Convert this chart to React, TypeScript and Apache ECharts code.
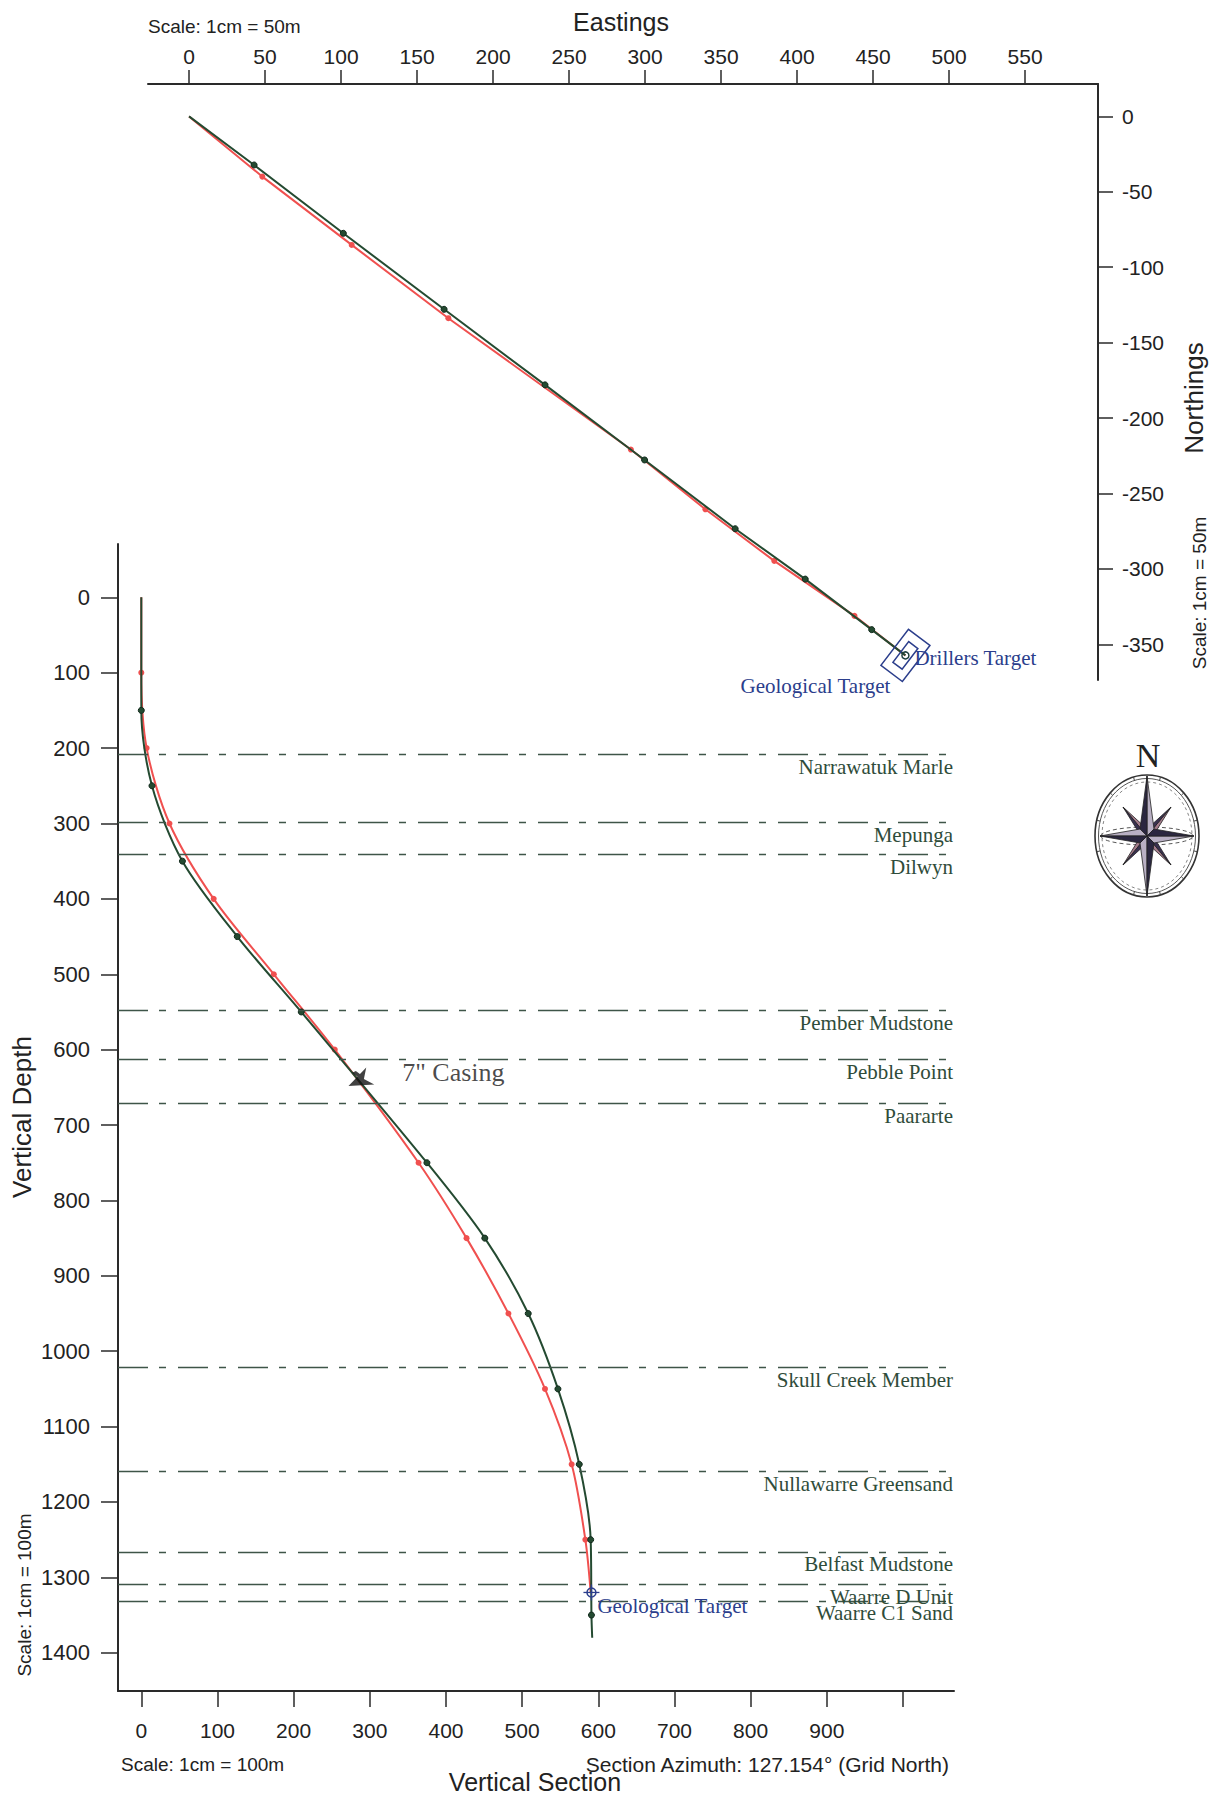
import React, { useEffect, useRef } from "react";
import * as echarts from "echarts";

// ---------- tick values ----------
const planEastTicks = [0, 50, 100, 150, 200, 250, 300, 350, 400, 450, 500, 550];
const planNorthTicks = [0, -50, -100, -150, -200, -250, -300, -350];
const sectionVsTicks = [0, 100, 200, 300, 400, 500, 600, 700, 800, 900, 1000];
const sectionVsLabels = [0, 100, 200, 300, 400, 500, 600, 700, 800, 900];
const sectionDepthTicks = [0, 100, 200, 300, 400, 500, 600, 700, 800, 900, 1000, 1100, 1200, 1300, 1400];

// ---------- plan view (Eastings, Northings) ----------
const planActual = [
  [0, 0], [42.8, -32.2], [101.5, -77.5], [167.8, -127.9], [234.2, -178],
  [299.7, -227.8], [359.3, -273.4], [405.4, -306.8], [449.1, -340.3], [471.3, -357.4],
];
const planPlanned = [
  [0, 0], [48.2, -39.9], [107, -85.2], [170.6, -133.8], [290.7, -220.9],
  [339.7, -260.5], [385, -294.7], [437.8, -331.2], [471.3, -357.4],
];
const planTarget = [471.3, -357.4];
const sectionAzimuth = 127.154;

// ---------- vertical section (VS, TVD) ----------
const sectionActual = [
  [0, 0], [0, 150], [14, 250], [54, 350], [126, 450], [210, 550], [375, 750],
  [451, 850], [508, 950], [547, 1050], [575, 1150], [590, 1250], [591, 1350], [592, 1380],
];
const sectionPlanned = [
  [0, 0], [0, 100], [7, 200], [37, 300], [95, 400], [174, 500], [254, 600], [364, 750],
  [427, 850], [482, 950], [530, 1050], [565, 1150], [583, 1250], [590, 1320],
];
const casingPoint = [286, 641];
const casingLabel = '7" Casing';
const sectionTarget = [591, 1320];

const formationNames = [
  "Narrawatuk Marle", "Mepunga", "Dilwyn", "Pember Mudstone", "Pebble Point", "Paararte",
  "Skull Creek Member", "Nullawarre Greensand", "Belfast Mudstone", "Waarre D Unit", "Waarre C1 Sand",
];
const formationDepths = [208, 299, 341, 548, 613, 671, 1021, 1159, 1266, 1309, 1331];

const SANS = "'Liberation Sans', Arial, Helvetica, sans-serif";
const SERIF = "'Liberation Serif', 'Times New Roman', serif";
const AXIS = "#2a2a2a";
const GREEN = "#244a31";
const RED = "#f0504f";
const BLUE = "#2b3e8c";
const FORM = "#2f4c3a";

function withEndsHidden(arr: number[][]) {
  return arr.map((p, i) => (i === 0 || i === arr.length - 1 ? { value: p, symbol: "none" } : p));
}

function compassGraphics() {
  const cx = 1147, cy = 836;
  const els: any[] = [];
  els.push({ type: "ellipse", shape: { cx, cy, rx: 52, ry: 61 }, style: { fill: "#fff", stroke: "#333", lineWidth: 1.6 } });
  els.push({ type: "ellipse", shape: { cx, cy, rx: 48.5, ry: 57.5 }, style: { fill: "transparent", stroke: "#555", lineWidth: 1 } });
  els.push({ type: "ellipse", shape: { cx, cy, rx: 45, ry: 54 }, style: { fill: "transparent", stroke: "#666", lineWidth: 0.8, lineDash: [3, 3] } });
  els.push({ type: "ellipse", shape: { cx, cy, rx: 46, ry: 9 }, style: { fill: "transparent", stroke: "#444", lineWidth: 0.9, lineDash: [4, 3] } });
  for (let k = 0; k < 12; k++) {
    const a = (k * 30 + 15) * Math.PI / 180;
    const s = Math.sin(a), c = Math.cos(a);
    els.push({ type: "line", shape: { x1: cx + 48.5 * s, y1: cy - 57.5 * c, x2: cx + 52 * s, y2: cy - 61 * c }, style: { stroke: "#444", lineWidth: 1 } });
  }
  const kite = (tx: number, ty: number, w: number, back: number, dark: string, light: string) => {
    const L = Math.hypot(tx, ty);
    const dx = tx / L, dy = ty / L;
    const px = -dy, py = dx;
    const s1 = [cx + dx * back + px * w, cy + dy * back + py * w];
    const s2 = [cx + dx * back - px * w, cy + dy * back - py * w];
    const tip = [cx + tx, cy + ty];
    els.push({ type: "polygon", shape: { points: [[cx, cy], tip, s1] }, style: { fill: light, stroke: "#222", lineWidth: 0.8 } });
    els.push({ type: "polygon", shape: { points: [[cx, cy], tip, s2] }, style: { fill: dark, stroke: "#222", lineWidth: 0.8 } });
  };
  kite(24, -29, 4.5, 5, "#3a3150", "#a57c8c");
  kite(24, 29, 4.5, 5, "#3a3150", "#a57c8c");
  kite(-24, 29, 4.5, 5, "#3a3150", "#a57c8c");
  kite(-24, -29, 4.5, 5, "#3a3150", "#a57c8c");
  kite(0, -60, 7, 7, "#2b2740", "#b9b0c4");
  kite(47, 0, 7, 7, "#2b2740", "#b9b0c4");
  kite(0, 60, 7, 7, "#2b2740", "#b9b0c4");
  kite(-47, 0, 7, 7, "#2b2740", "#b9b0c4");
  els.push({ type: "text", x: 1148, y: 755, style: { text: "N", fontFamily: SERIF, fontSize: 34, fill: "#222", align: "center", verticalAlign: "middle" } });
  return els;
}

const plain = (v: number) => String(v);

export default function App() {
  const ref = useRef<HTMLDivElement>(null);
  useEffect(() => {
    document.body.style.margin = "0";
    const chart = echarts.init(ref.current!, null, { renderer: "svg" });
    const tickStyle = { color: AXIS, width: 1.5 };
    const lineStyle = { color: AXIS, width: 2 };
    const labelBase = { fontFamily: SANS, fontSize: 21, color: "#222", formatter: plain };
    const option: any = {
      animation: false,
      backgroundColor: "#ffffff",
      grid: [
        { left: 148, top: 84, width: 950, height: 596 },
        { left: 118, top: 544, width: 836, height: 1147 },
      ],
      xAxis: [
        {
          gridIndex: 0, type: "value", position: "top", min: -27, max: 598,
          axisLine: { show: true, onZero: false, lineStyle },
          axisTick: { show: true, customValues: planEastTicks, length: 14, lineStyle: tickStyle },
          axisLabel: { ...labelBase, customValues: planEastTicks, margin: 17 },
          splitLine: { show: false },
        },
        {
          gridIndex: 1, type: "value", position: "bottom", min: -30.6, max: 1067,
          axisLine: { show: true, onZero: false, lineStyle },
          axisTick: { show: true, customValues: sectionVsTicks, length: 16, lineStyle: tickStyle },
          axisLabel: { ...labelBase, customValues: sectionVsLabels, margin: 29 },
          splitLine: { show: false },
        },
      ],
      yAxis: [
        {
          gridIndex: 0, type: "value", position: "right", min: -373.7, max: 21.5,
          axisLine: { show: true, onZero: false, lineStyle },
          axisTick: { show: true, customValues: planNorthTicks, length: 15, lineStyle: tickStyle },
          axisLabel: { ...labelBase, customValues: planNorthTicks, margin: 24, align: "left" },
          splitLine: { show: false },
        },
        {
          gridIndex: 1, type: "value", position: "left", inverse: true, min: -70.7, max: 1450.7,
          axisLine: { show: true, onZero: false, lineStyle },
          axisTick: { show: true, customValues: sectionDepthTicks, length: 17, lineStyle: tickStyle },
          axisLabel: { ...labelBase, fontSize: 22, customValues: sectionDepthTicks, margin: 28, align: "right" },
          splitLine: { show: false },
        },
      ],
      series: [
        {
          name: "Plan planned", type: "line", xAxisIndex: 0, yAxisIndex: 0,
          data: withEndsHidden(planPlanned), smooth: false,
          lineStyle: { color: RED, width: 2 }, symbol: "circle", symbolSize: 6,
          itemStyle: { color: RED }, z: 3,
        },
        {
          name: "Plan actual", type: "line", xAxisIndex: 0, yAxisIndex: 0,
          data: withEndsHidden(planActual), smooth: false,
          lineStyle: { color: GREEN, width: 2 }, symbol: "circle", symbolSize: 6,
          itemStyle: { color: GREEN, borderColor: "#10281a", borderWidth: 1 }, z: 4,
        },
        {
          name: "Plan target", type: "custom", coordinateSystem: "cartesian2d", xAxisIndex: 0, yAxisIndex: 0,
          data: [planTarget], z: 5, clip: false,
          renderItem: (params: any, api: any) => {
            const E = api.value(0), N = api.value(1);
            const az = (sectionAzimuth * Math.PI) / 180;
            const dE = Math.sin(az), dN = Math.cos(az);
            const pE = -dN, pN = dE;
            const rect = (ha: number, hc: number) =>
              [[ha, hc], [ha, -hc], [-ha, -hc], [-ha, hc]].map(([a, c]) => api.coord([E + a * dE + c * pE, N + a * dN + c * pN]));
            const c = api.coord([E, N]);
            return {
              type: "group",
              children: [
                { type: "polygon", shape: { points: rect(8.85, 15) }, style: { fill: "transparent", stroke: BLUE, lineWidth: 1.5 } },
                { type: "polygon", shape: { points: rect(3.8, 8.6) }, style: { fill: "transparent", stroke: BLUE, lineWidth: 1.5 } },
                { type: "circle", shape: { cx: c[0], cy: c[1], r: 3.5 }, style: { fill: "transparent", stroke: "#1f4040", lineWidth: 1.5 } },
                { type: "text", x: c[0] + 9, y: c[1] + 3, style: { text: "Drillers Target", fontFamily: SERIF, fontSize: 21, fill: BLUE, align: "left", verticalAlign: "middle" } },
                { type: "text", x: c[0] - 15, y: c[1] + 31, style: { text: "Geological Target", fontFamily: SERIF, fontSize: 21, fill: BLUE, align: "right", verticalAlign: "middle" } },
              ],
            };
          },
        },
        {
          name: "Section planned", type: "line", xAxisIndex: 1, yAxisIndex: 1,
          data: withEndsHidden(sectionPlanned), smooth: 0.3,
          lineStyle: { color: RED, width: 2 }, symbol: "circle", symbolSize: 6,
          itemStyle: { color: RED }, z: 3,
        },
        {
          name: "Section actual", type: "line", xAxisIndex: 1, yAxisIndex: 1,
          data: withEndsHidden(sectionActual), smooth: 0.3,
          lineStyle: { color: GREEN, width: 2 }, symbol: "circle", symbolSize: 6,
          itemStyle: { color: GREEN, borderColor: "#10281a", borderWidth: 1 }, z: 4,
          markLine: {
            silent: true, symbol: ["none", "none"], animation: false,
            lineStyle: { color: "#3e5548", width: 1.3, type: [30, 11, 7, 12] },
            label: {
              show: true, position: "insideEndBottom", formatter: "{b}",
              fontFamily: SERIF, fontSize: 21, color: FORM, distance: [1, 2],
            },
            data: formationNames.map((n, i) => ({ name: n, yAxis: formationDepths[i] })),
          },
        },
        {
          name: "Casing", type: "scatter", xAxisIndex: 1, yAxisIndex: 1,
          data: [casingPoint], z: 6,
          symbol: "path://M0,12 L24,3 L17,12 L24,21 Z M9,2 L13,2 L17,9 L13,9 Z",
          symbolSize: [24, 20], symbolRotate: 25,
          itemStyle: { color: "#111" },
          label: {
            show: true, position: "right", distance: 28, offset: [0, -8],
            formatter: casingLabel, fontFamily: SERIF, fontSize: 26, color: "#1a1a1a",
          },
        },
        {
          name: "Section target", type: "custom", coordinateSystem: "cartesian2d", xAxisIndex: 1, yAxisIndex: 1,
          data: [sectionTarget], z: 6, clip: false,
          renderItem: (params: any, api: any) => {
            const c = api.coord([api.value(0), api.value(1)]);
            return {
              type: "group",
              children: [
                { type: "circle", shape: { cx: c[0], cy: c[1], r: 4.5 }, style: { fill: "transparent", stroke: BLUE, lineWidth: 1.5 } },
                { type: "line", shape: { x1: c[0] - 8, y1: c[1], x2: c[0] + 8, y2: c[1] }, style: { stroke: BLUE, lineWidth: 1.3 } },
                { type: "line", shape: { x1: c[0], y1: c[1] - 8, x2: c[0], y2: c[1] + 8 }, style: { stroke: BLUE, lineWidth: 1.3 } },
                { type: "text", x: c[0] + 6, y: c[1] + 14, style: { text: "Geological Target", fontFamily: SERIF, fontSize: 21, fill: BLUE, align: "left", verticalAlign: "middle" } },
              ],
            };
          },
        },
      ],
      graphic: [
        { type: "text", x: 621, y: 22, style: { text: "Eastings", fontFamily: SANS, fontSize: 25, fill: "#222", align: "center", verticalAlign: "middle" } },
        { type: "text", x: 148, y: 26, style: { text: "Scale: 1cm = 50m", fontFamily: SANS, fontSize: 19, fill: "#222", align: "left", verticalAlign: "middle" } },
        { type: "text", x: 1194, y: 398, rotation: Math.PI / 2, style: { text: "Northings", fontFamily: SANS, fontSize: 26, fill: "#222", align: "center", verticalAlign: "middle" } },
        { type: "text", x: 1199, y: 593, rotation: Math.PI / 2, style: { text: "Scale: 1cm = 50m", fontFamily: SANS, fontSize: 19, fill: "#222", align: "center", verticalAlign: "middle" } },
        { type: "text", x: 22, y: 1117, rotation: Math.PI / 2, style: { text: "Vertical Depth", fontFamily: SANS, fontSize: 26, fill: "#222", align: "center", verticalAlign: "middle" } },
        { type: "text", x: 24, y: 1595, rotation: Math.PI / 2, style: { text: "Scale: 1cm = 100m", fontFamily: SANS, fontSize: 19, fill: "#222", align: "center", verticalAlign: "middle" } },
        { type: "text", x: 121, y: 1764, style: { text: "Scale: 1cm = 100m", fontFamily: SANS, fontSize: 19, fill: "#222", align: "left", verticalAlign: "middle" } },
        { type: "text", x: 949, y: 1764, style: { text: "Section Azimuth: 127.154° (Grid North)", fontFamily: SANS, fontSize: 21, fill: "#222", align: "right", verticalAlign: "middle" } },
        { type: "text", x: 535, y: 1782, style: { text: "Vertical Section", fontFamily: SANS, fontSize: 25, fill: "#222", align: "center", verticalAlign: "middle" } },
        ...compassGraphics(),
      ],
    };
    chart.setOption(option);
    return () => chart.dispose();
  }, []);
  return (
    <div
      ref={ref}
      style={{ position: "absolute", left: 0, top: 0, width: 1217, height: 1799, background: "#fff" }}
    />
  );
}
